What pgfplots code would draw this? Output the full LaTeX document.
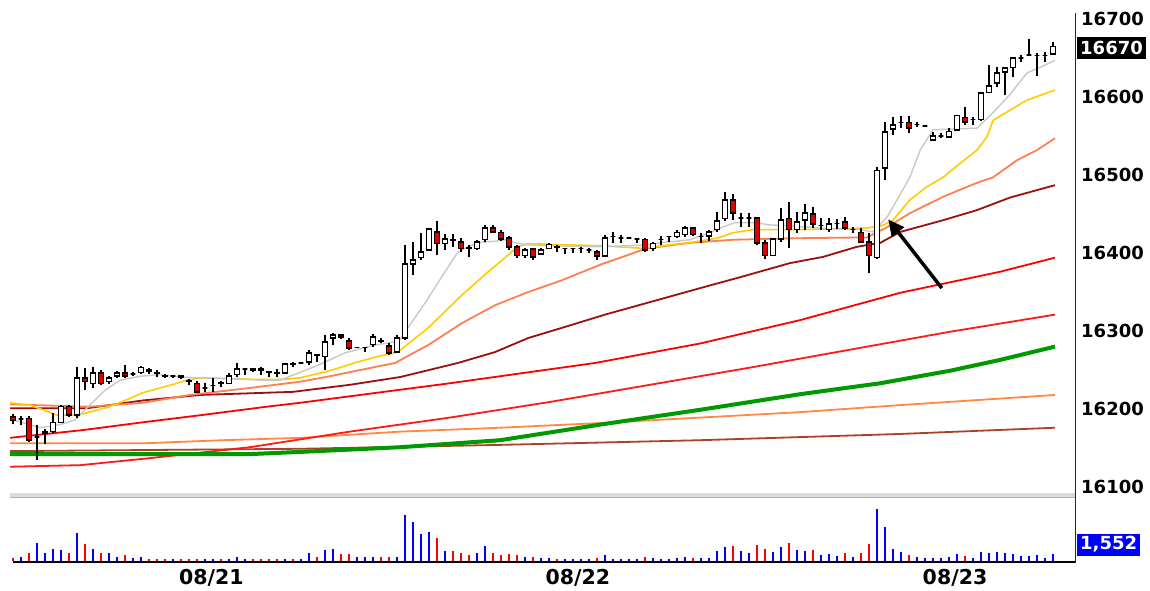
\documentclass[border=0pt]{standalone}
\usepackage{fontspec}
\setmainfont{DejaVu Sans}
\usepackage{pgfplots}
\pgfplotsset{compat=1.18}
\usepackage{pgfplotstable}
\usetikzlibrary{arrows.meta}

\definecolor{maGray}{HTML}{C8C8C8}
\definecolor{maYellow}{HTML}{FFCC00}
\definecolor{maCoral}{HTML}{FF7F50}
\definecolor{maMaroon}{HTML}{9A1010}
\definecolor{maRed}{HTML}{FF0000}
\definecolor{maRed2}{HTML}{FF1A1A}
\definecolor{maGreen}{HTML}{009A00}
\definecolor{maOrange}{HTML}{FF8844}
\definecolor{maBrown}{HTML}{A8432A}
\definecolor{candleRed}{HTML}{E00000}
\definecolor{volBlue}{HTML}{0000FF}
\definecolor{volRed}{HTML}{FF0000}

\pgfplotstableread{
i O H L C V D
0 16190 16194 16181 16185 270 0
1 16187 16191 16180 16187 400 1
2 16188 16191 16158 16160 830 0
3 16164 16180 16135 16164 1830 1
4 16169 16174 16155 16171 830 1
5 16171 16195 16169 16183 1230 1
6 16183 16205 16182 16203 1070 1
7 16203 16205 16190 16192 830 0
8 16192 16254 16188 16240 2830 1
9 16240 16253 16224 16235 1670 0
10 16233 16254 16227 16246 1230 1
11 16246 16250 16231 16233 830 0
12 16235 16242 16232 16240 830 1
13 16242 16249 16240 16246 400 1
14 16246 16256 16240 16242 600 0
15 16245 16247 16242 16245 270 1
16 16247 16255 16245 16253 400 1
17 16250 16253 16245 16249 230 0
18 16247 16250 16241 16246 230 0
19 16243 16245 16240 16242 230 0
20 16242 16244 16240 16242 230 1
21 16242 16243 16238 16241 230 0
22 16236 16238 16231 16235 230 0
23 16233 16236 16220 16222 230 0
24 16227 16233 16222 16227 230 1
25 16230 16240 16222 16230 230 1
26 16234 16236 16228 16233 230 0
27 16233 16246 16232 16242 230 1
28 16244 16259 16241 16251 400 1
29 16251 16252 16244 16251 230 1
30 16251 16252 16248 16250 230 0
31 16251 16254 16244 16250 230 0
32 16248 16248 16241 16247 230 0
33 16247 16251 16241 16246 230 0
34 16246 16259 16245 16258 230 1
35 16258 16260 16254 16257 230 0
36 16259 16260 16258 16259 230 1
37 16260 16276 16256 16272 830 1
38 16270 16270 16260 16269 400 0
39 16267 16295 16250 16286 1070 1
40 16291 16297 16282 16295 1230 1
41 16295 16296 16290 16292 670 0
42 16287 16291 16276 16278 670 0
43 16279 16280 16278 16279 400 1
44 16279 16280 16273 16279 400 1
45 16283 16296 16279 16292 400 1
46 16288 16291 16284 16287 400 0
47 16281 16285 16269 16272 400 0
48 16273 16295 16272 16291 400 1
49 16291 16410 16288 16386 4600 1
50 16386 16414 16372 16391 3900 1
51 16394 16426 16391 16401 2700 1
52 16404 16432 16403 16431 2900 1
53 16427 16441 16397 16412 2300 0
54 16412 16424 16404 16418 1000 1
55 16417 16424 16408 16416 1000 0
56 16414 16419 16401 16406 800 0
57 16407 16410 16395 16406 600 0
58 16406 16417 16404 16414 800 1
59 16417 16436 16414 16432 1500 1
60 16432 16436 16426 16427 800 0
61 16426 16429 16415 16418 600 0
62 16419 16422 16404 16408 700 0
63 16408 16410 16394 16397 600 0
64 16397 16406 16394 16404 400 1
65 16405 16406 16391 16395 400 0
66 16399 16406 16398 16404 300 1
67 16406 16413 16405 16411 300 1
68 16408 16410 16401 16407 250 0
69 16406 16407 16399 16406 250 1
70 16406 16407 16400 16406 250 1
71 16406 16408 16400 16406 250 1
72 16404 16406 16400 16404 250 1
73 16401 16404 16391 16396 300 0
74 16396 16423 16395 16419 600 1
75 16421 16427 16413 16421 250 1
76 16419 16423 16413 16419 250 1
77 16419 16420 16418 16419 250 1
78 16418 16418 16413 16418 250 1
79 16417 16419 16401 16404 400 0
80 16406 16414 16402 16412 300 1
81 16417 16422 16410 16417 250 1
82 16421 16422 16414 16421 250 1
83 16421 16430 16419 16426 300 1
84 16424 16435 16421 16432 400 1
85 16432 16433 16422 16424 300 0
86 16421 16426 16413 16421 300 1
87 16422 16430 16415 16427 300 1
88 16430 16453 16427 16441 1000 1
89 16444 16478 16441 16468 1400 1
90 16468 16476 16442 16451 1500 0
91 16445 16451 16433 16445 1000 1
92 16445 16451 16433 16445 800 1
93 16445 16446 16410 16413 1600 0
94 16413 16417 16392 16397 1200 0
95 16397 16419 16396 16418 900 1
96 16418 16458 16414 16442 1400 1
97 16444 16465 16406 16430 1800 0
98 16430 16453 16426 16440 1100 1
99 16442 16463 16430 16451 1000 1
100 16450 16459 16432 16437 1100 0
101 16435 16445 16430 16435 600 1
102 16430 16445 16427 16437 700 1
103 16438 16444 16431 16438 500 1
104 16440 16446 16430 16432 800 0
105 16430 16433 16426 16430 400 1
106 16426 16432 16413 16414 800 0
107 16414 16426 16374 16397 1700 0
108 16394 16510 16392 16506 5200 1
109 16509 16568 16494 16555 3400 1
110 16559 16574 16551 16564 1200 1
111 16567 16576 16560 16567 900 1
112 16567 16576 16554 16560 600 0
113 16565 16568 16562 16565 400 1
114 16563 16564 16562 16563 300 1
115 16545 16555 16544 16550 300 1
116 16550 16554 16547 16550 300 1
117 16549 16560 16547 16556 400 1
118 16558 16577 16557 16576 700 1
119 16574 16587 16564 16568 500 0
120 16571 16574 16564 16571 300 1
121 16571 16606 16569 16605 900 1
122 16606 16641 16605 16614 800 1
123 16618 16638 16613 16631 900 1
124 16632 16638 16603 16637 800 1
125 16638 16651 16626 16650 700 1
126 16650 16654 16645 16650 500 1
127 16654 16674 16653 16654 500 1
128 16653 16656 16627 16653 600 1
129 16653 16658 16645 16653 300 1
130 16655 16670 16654 16665 700 1
}\candles

\tikzset{
  wick/.style={black, line width=1.6pt},
  body/.style={draw=black, line width=1.5pt}
}

\begin{document}
\begin{tikzpicture}[x=1pt,y=1pt]
\useasboundingbox (0,0) rectangle (1150,590);
\fill[white] (0,0) rectangle (1150,590);

% separator between panels
\fill[gray!28] (10,92) rectangle (1075,97);
\draw[gray!60, line width=0.8pt] (10,92.4) -- (1075,92.4);

% ===== price panel =====
\begin{axis}[
  at={(10pt,93pt)}, anchor=south west, scale only axis,
  width=1065pt, height=482pt,
  xmin=-0.375, xmax=132.75, ymin=16087.18, ymax=16705.13,
  axis line style={draw=none},
  xtick=\empty,
  scaled y ticks=false, scaled x ticks=false,
  ytick={16100,16200,16300,16400,16500,16600,16700},
  yticklabels={16100,16200,16300,16400,16500,16600,16700},
  ytick pos=right, yticklabel pos=right,
  major tick length=0pt,
  yticklabel style={font=\bfseries\fontsize{18}{20}\selectfont, anchor=west, inner sep=0pt, xshift=6pt},
  clip mode=individual,
]
% long moving averages
\addplot[maBrown, line width=1.8pt] coordinates {(-0.4,16146) (35.9,16149) (60.9,16154) (85.9,16160) (110.9,16168) (130.25,16176)};
\addplot[maOrange, line width=1.8pt] coordinates {(-0.4,16156) (16.25,16156) (26.25,16160) (35.9,16163) (48.4,16171) (60.9,16176) (73.4,16182) (85.9,16189) (98.4,16196) (110.9,16205) (130.25,16218)};
\addplot[maRed2, line width=1.8pt] coordinates {(-0.4,16126) (8.4,16128) (17.1,16137) (29.6,16151) (42.1,16171) (54.6,16189) (67.1,16209) (79.6,16231) (92.1,16253) (104.6,16276) (117.1,16299) (130.25,16321)};
\addplot[maGreen, line width=4pt] coordinates {(-0.4,16142) (29.25,16142) (35.9,16145) (48.4,16151) (60.9,16160) (73.4,16180) (85.9,16199) (98.4,16219) (108.4,16233) (117.1,16249) (123.4,16263) (130.25,16280)};
\addplot[maRed, line width=1.8pt] coordinates {(-0.4,16163) (8.75,16173) (16.25,16183) (23.4,16192) (31.75,16203) (35.9,16208) (54.6,16233) (72.75,16259) (85.9,16284) (98.4,16314) (110.9,16349) (123.4,16376) (130.25,16394)};
\addplot[maMaroon, line width=1.8pt] coordinates {(-0.4,16201) (9.25,16201) (16.25,16211) (23.4,16218) (35,16222) (42.1,16231) (48.4,16241) (55.6,16259) (60.25,16273) (64.4,16291) (68.6,16304) (74,16321) (79.6,16337) (85.9,16355) (90.9,16369) (97.1,16387) (101.25,16395) (105.5,16408) (108.4,16413) (110.9,16427) (116.25,16442) (120.5,16455) (124.6,16471) (130.25,16487)};
\addplot[maCoral, line width=1.8pt] coordinates {(-0.4,16206) (5.9,16204) (9.6,16203) (16.25,16208) (22.1,16218) (29.6,16227) (35.9,16235) (39.6,16242) (43.4,16250) (47.75,16259) (51.9,16282) (56.1,16310) (60.25,16333) (64.4,16350) (68.6,16365) (73.4,16385) (79.25,16406) (84.6,16413) (90,16417) (98.4,16419) (106.75,16420) (109.25,16433) (112.1,16451) (116.25,16472) (120.5,16490) (122.5,16497) (125.5,16519) (128,16532) (130.25,16547)};
\addplot[maYellow, line width=1.6pt] coordinates {(-0.4,16208) (2.1,16205) (3.75,16199) (5.5,16192) (8,16192) (9.6,16196) (12.1,16203) (14.25,16212) (16.25,16221) (18.4,16227) (20.5,16233) (21.75,16237) (23.4,16240) (30,16238) (33.75,16238) (35.9,16240) (39.6,16249) (43,16260) (45.5,16267) (48.1,16273) (51.9,16304) (56.1,16346) (59.4,16376) (61.5,16394) (63.1,16408) (64.4,16412) (74,16409) (78.75,16406) (81.75,16410) (85,16414) (88,16419) (90,16426) (92.5,16430) (98.4,16430) (106.75,16432) (108.6,16435) (110,16442) (112.1,16468) (114.25,16485) (116.25,16497) (118.4,16515) (120.5,16532) (121.75,16549) (122.5,16570) (124.6,16583) (126.75,16596) (130.25,16609)};
\addplot[maGray, line width=1.4pt] coordinates {(-0.4,16186) (0,16186) (3.4,16176) (5.9,16180) (7.75,16186) (9.6,16205) (11.5,16224) (13.4,16237) (15.9,16242) (18.4,16244) (20.9,16241) (23.4,16240) (27.1,16239) (30.9,16237) (33.4,16237) (35.9,16247) (38.1,16256) (39.6,16263) (41.5,16272) (43.4,16277) (45.25,16282) (47.1,16285) (48.4,16289) (49,16299) (50.25,16317) (51.9,16342) (54,16376) (55.6,16401) (56.9,16408) (58.6,16414) (60.25,16415) (61.5,16417) (62.75,16413) (64.6,16410) (68.4,16409) (73.4,16408) (78.4,16410) (80.9,16413) (84.6,16417) (87.1,16426) (88.4,16432) (90.25,16439) (92.75,16439) (94.6,16436) (97.1,16435) (100.9,16432) (105.9,16430) (107.5,16427) (109.25,16446) (110.5,16468) (112.1,16497) (113.4,16532) (115,16558) (120.5,16560) (122.5,16580) (124.6,16603) (126.75,16631) (128.4,16638) (130.25,16647)};

% candlesticks from the table
\pgfplotstablegetrowsof{\candles}
\pgfmathtruncatemacro{\lastrow}{\pgfplotsretval-1}
\pgfplotsforeachungrouped \rowi in {0,...,\lastrow}{%
  \pgfplotstablegetelem{\rowi}{i}\of\candles \let\ci\pgfplotsretval
  \pgfplotstablegetelem{\rowi}{O}\of\candles \let\co\pgfplotsretval
  \pgfplotstablegetelem{\rowi}{H}\of\candles \let\ch\pgfplotsretval
  \pgfplotstablegetelem{\rowi}{L}\of\candles \let\cl\pgfplotsretval
  \pgfplotstablegetelem{\rowi}{C}\of\candles \let\cc\pgfplotsretval
  \pgfmathsetmacro{\xa}{\ci-0.3}%
  \pgfmathsetmacro{\xb}{\ci+0.3}%
  \ifnum\cc<\co\relax \def\cf{candleRed}\else\def\cf{white}\fi
  \edef\tmp{\noexpand\draw[wick] (axis cs:\ci,\cl) -- (axis cs:\ci,\ch);
    \noexpand\filldraw[body,fill=\cf] (axis cs:\xa,\co) rectangle (axis cs:\xb,\cc);}%
  \tmp
}

% arrow annotation
\draw[black, line width=3.5pt, -{Triangle[length=16pt,width=15pt]}] (axis cs:116.1,16355) -- (axis cs:109.4,16443);

\coordinate (lastp) at (axis cs:132.75,16663);
\end{axis}

\node[fill=black, text=white, font=\bfseries\fontsize{18}{20}\selectfont, inner xsep=3pt, inner ysep=0pt, minimum height=22pt, anchor=west, xshift=2pt] at (lastp) {16670};

% ===== volume panel =====
\begin{axis}[
  at={(10pt,29pt)}, anchor=south west, scale only axis,
  width=1065pt, height=58pt,
  xmin=-0.375, xmax=132.75, ymin=0, ymax=5800,
  axis line style={draw=none},
  ytick=\empty,
  scaled y ticks=false, scaled x ticks=false,
  xtick={24.8,70.6,117.75},
  xticklabels={08/21,08/22,08/23},
  major tick length=0pt,
  xticklabel style={font=\bfseries\fontsize{20.5}{23}\selectfont, anchor=north, inner sep=0pt, yshift=-8pt},
  clip=false,
]
\addplot[ycomb, draw=volBlue, line width=2.4pt, mark=none, restrict expr to domain={\thisrow{D}}{0.5:1.5}] table[x=i, y=V] {\candles};
\addplot[ycomb, draw=volRed, line width=2.4pt, mark=none, restrict expr to domain={\thisrow{D}}{-0.5:0.5}] table[x=i, y=V] {\candles};
\draw[black, line width=2pt] (rel axis cs:0,0) ++(0,-1pt) -- ([yshift=-1pt]rel axis cs:1,0);
\coordinate (lastv) at (axis cs:132.75,1650);
\end{axis}

\node[fill=volBlue, text=white, font=\bfseries\fontsize{18}{20}\selectfont, inner xsep=3pt, inner ysep=0pt, minimum height=22pt, anchor=west, xshift=2pt] at (lastv) {1,552};

% right frame line
\draw[black!85, line width=1.5pt] (1075.5,27) -- (1075.5,577);
\end{tikzpicture}
\end{document}
